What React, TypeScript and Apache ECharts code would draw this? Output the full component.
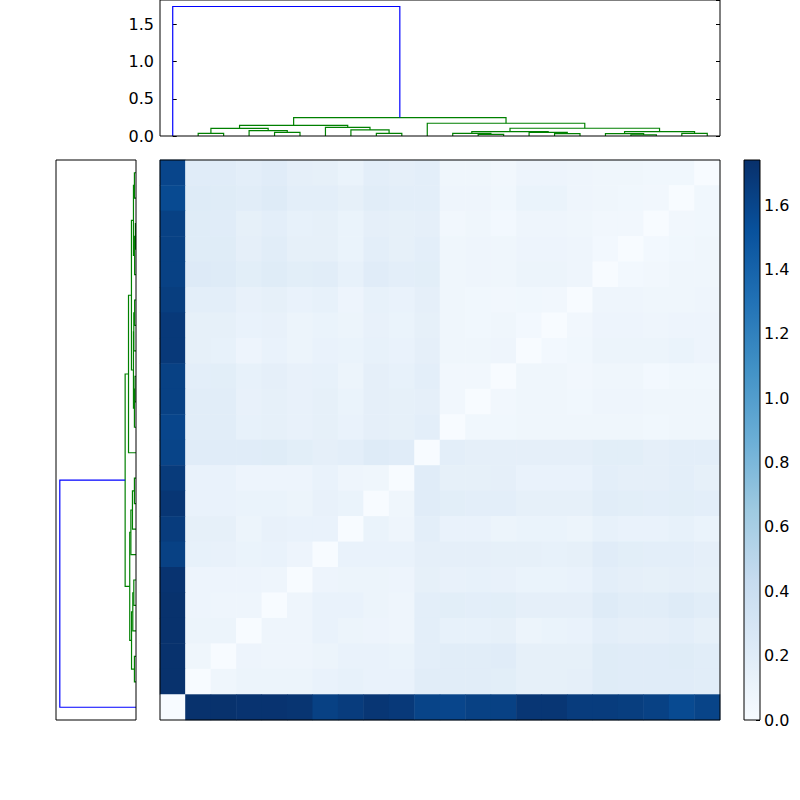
import React, { useEffect, useRef } from "react";
import * as echarts from "echarts";

// ---------- data ----------
const N_LEAVES = 22;
const VMAX = 1.74; // colour scale maximum
const DENDRO_MAX = 1.827; // dendrogram axis limit (1.05 x top merge)

// Matplotlib "Blues" colormap stops
const BLUES = ["#f7fbff", "#deebf7", "#c6dbef", "#9ecae1", "#6baed6", "#4292c6", "#2171b5", "#08519c", "#08306b"];

// Linkage (leaves already in display order): [childA, childB, height]
// ids < 22 are leaves, id 22 + k is merge k
const merges: [number, number, number][] = [
  [1, 2, 0.036],   // 22
  [4, 5, 0.05],    // 23
  [3, 23, 0.073],  // 24
  [22, 24, 0.102], // 25
  [8, 9, 0.036],   // 26
  [7, 26, 0.081],  // 27
  [6, 27, 0.117],  // 28
  [25, 28, 0.143], // 29
  [12, 13, 0.022], // 30
  [11, 30, 0.036], // 31
  [15, 16, 0.031], // 32
  [14, 32, 0.05],  // 33
  [31, 33, 0.058], // 34
  [18, 19, 0.014], // 35
  [17, 35, 0.031], // 36
  [20, 21, 0.036], // 37
  [36, 37, 0.058], // 38
  [34, 38, 0.104], // 39
  [10, 39, 0.171], // 40
  [29, 40, 0.248], // 41
  [0, 41, 1.74],   // 42
];

// Heatmap values, displayed rows top -> bottom, columns left -> right
const heatRows: number[][] = [
  [1.60, 0.20, 0.20, 0.17, 0.20, 0.16, 0.15, 0.11, 0.17, 0.16, 0.17, 0.07, 0.07, 0.05, 0.09, 0.09, 0.08, 0.07, 0.07, 0.06, 0.06, 0.00],
  [1.57, 0.22, 0.21, 0.19, 0.22, 0.17, 0.17, 0.15, 0.19, 0.17, 0.17, 0.08, 0.08, 0.06, 0.11, 0.11, 0.08, 0.07, 0.06, 0.05, 0.00, 0.06],
  [1.63, 0.21, 0.20, 0.15, 0.17, 0.14, 0.15, 0.11, 0.16, 0.15, 0.16, 0.05, 0.07, 0.04, 0.08, 0.08, 0.07, 0.05, 0.05, 0.00, 0.05, 0.06],
  [1.63, 0.21, 0.21, 0.16, 0.19, 0.15, 0.15, 0.11, 0.17, 0.15, 0.17, 0.07, 0.08, 0.07, 0.09, 0.09, 0.08, 0.04, 0.00, 0.04, 0.06, 0.07],
  [1.63, 0.23, 0.22, 0.18, 0.21, 0.18, 0.19, 0.14, 0.20, 0.17, 0.18, 0.07, 0.08, 0.07, 0.10, 0.10, 0.08, 0.00, 0.04, 0.05, 0.07, 0.07],
  [1.65, 0.17, 0.17, 0.13, 0.15, 0.12, 0.14, 0.09, 0.14, 0.12, 0.16, 0.07, 0.06, 0.05, 0.06, 0.05, 0.00, 0.08, 0.08, 0.07, 0.07, 0.08],
  [1.68, 0.15, 0.15, 0.12, 0.13, 0.10, 0.11, 0.10, 0.13, 0.11, 0.15, 0.07, 0.06, 0.07, 0.04, 0.00, 0.05, 0.09, 0.09, 0.08, 0.09, 0.09],
  [1.68, 0.15, 0.14, 0.09, 0.12, 0.10, 0.12, 0.11, 0.14, 0.12, 0.16, 0.07, 0.07, 0.08, 0.00, 0.04, 0.06, 0.10, 0.10, 0.10, 0.11, 0.09],
  [1.63, 0.17, 0.18, 0.14, 0.16, 0.13, 0.14, 0.10, 0.16, 0.14, 0.17, 0.05, 0.05, 0.00, 0.07, 0.07, 0.05, 0.07, 0.07, 0.04, 0.06, 0.06],
  [1.63, 0.19, 0.19, 0.13, 0.15, 0.13, 0.15, 0.11, 0.16, 0.15, 0.16, 0.05, 0.00, 0.05, 0.07, 0.07, 0.06, 0.08, 0.08, 0.07, 0.07, 0.07],
  [1.60, 0.19, 0.19, 0.14, 0.15, 0.13, 0.15, 0.12, 0.16, 0.15, 0.17, 0.00, 0.06, 0.06, 0.07, 0.07, 0.07, 0.07, 0.07, 0.06, 0.07, 0.07],
  [1.61, 0.20, 0.20, 0.20, 0.21, 0.18, 0.16, 0.17, 0.22, 0.20, 0.00, 0.17, 0.16, 0.16, 0.16, 0.16, 0.16, 0.18, 0.18, 0.16, 0.17, 0.17],
  [1.67, 0.12, 0.12, 0.09, 0.09, 0.09, 0.12, 0.08, 0.07, 0.00, 0.20, 0.15, 0.15, 0.16, 0.12, 0.12, 0.12, 0.17, 0.16, 0.16, 0.17, 0.15],
  [1.70, 0.12, 0.12, 0.11, 0.11, 0.10, 0.13, 0.11, 0.00, 0.07, 0.20, 0.18, 0.17, 0.17, 0.15, 0.15, 0.15, 0.19, 0.18, 0.17, 0.18, 0.17],
  [1.66, 0.15, 0.15, 0.10, 0.13, 0.12, 0.12, 0.00, 0.11, 0.08, 0.17, 0.12, 0.12, 0.10, 0.11, 0.11, 0.10, 0.14, 0.12, 0.12, 0.14, 0.11],
  [1.63, 0.14, 0.13, 0.11, 0.12, 0.09, 0.00, 0.12, 0.12, 0.12, 0.16, 0.16, 0.16, 0.15, 0.15, 0.14, 0.15, 0.20, 0.18, 0.17, 0.17, 0.16],
  [1.72, 0.09, 0.09, 0.09, 0.08, 0.00, 0.09, 0.10, 0.10, 0.09, 0.15, 0.13, 0.14, 0.13, 0.11, 0.11, 0.12, 0.17, 0.16, 0.15, 0.16, 0.15],
  [1.73, 0.09, 0.08, 0.08, 0.00, 0.08, 0.12, 0.12, 0.10, 0.08, 0.17, 0.18, 0.17, 0.18, 0.16, 0.16, 0.16, 0.22, 0.19, 0.19, 0.22, 0.19],
  [1.73, 0.10, 0.10, 0.00, 0.08, 0.08, 0.12, 0.10, 0.09, 0.08, 0.17, 0.14, 0.14, 0.15, 0.10, 0.11, 0.12, 0.17, 0.16, 0.16, 0.17, 0.15],
  [1.73, 0.07, 0.00, 0.09, 0.08, 0.08, 0.10, 0.12, 0.12, 0.11, 0.17, 0.19, 0.19, 0.20, 0.15, 0.15, 0.15, 0.21, 0.20, 0.20, 0.21, 0.19],
  [1.73, 0.00, 0.07, 0.10, 0.10, 0.10, 0.12, 0.14, 0.12, 0.12, 0.19, 0.19, 0.19, 0.18, 0.15, 0.15, 0.16, 0.21, 0.20, 0.20, 0.20, 0.19],
  [0.00, 1.73, 1.73, 1.72, 1.72, 1.71, 1.63, 1.66, 1.70, 1.68, 1.61, 1.60, 1.63, 1.63, 1.70, 1.70, 1.66, 1.66, 1.65, 1.63, 1.57, 1.61],
];

const colCategories = heatRows[0].map((_, i) => "c" + i);
const rowCategories = heatRows.map((_, i) => "r" + i);

// ---------- helpers ----------
const GREEN = "#008000";
const BLUE = "#0000ff";

type Seg = { pts: [number, number][]; color: string };

function dendroSegments(): Seg[] {
  const pos: number[] = [];
  const hgt: number[] = [];
  for (let i = 0; i < N_LEAVES; i++) {
    pos[i] = i;
    hgt[i] = 0;
  }
  const maxH = Math.max(...merges.map((m) => m[2]));
  const segs: Seg[] = [];
  merges.forEach(([a, b, h], k) => {
    const id = N_LEAVES + k;
    pos[id] = (pos[a] + pos[b]) / 2;
    hgt[id] = h;
    segs.push({
      pts: [
        [pos[a], hgt[a]],
        [pos[a], h],
        [pos[b], h],
        [pos[b], hgt[b]],
      ],
      color: h > 0.7 * maxH ? BLUE : GREEN,
    });
  });
  return segs;
}

const FONT = "DejaVu Sans";
const LINE_W = 1.2;

export default function App() {
  const ref = useRef<HTMLDivElement>(null);

  useEffect(() => {
    if (!ref.current) return;
    const chart = echarts.init(ref.current, undefined, { renderer: "svg" });
    const segs = dendroSegments();

    const heatData: [number, number, number][] = [];
    heatRows.forEach((row, r) => row.forEach((v, c) => heatData.push([c, r, v])));

    const gridBase = { show: true, borderColor: "#000", borderWidth: 1, backgroundColor: "transparent", z: 5 };
    const tickStyle = { show: true, inside: true, length: 4, lineStyle: { color: "#000", width: 1 } };

    const gradStops = BLUES.map((c, i) => ({ offset: 1 - i / (BLUES.length - 1), color: c })).reverse();

    chart.setOption({
      animation: false,
      textStyle: { fontFamily: FONT, color: "#000" },
      grid: [
        { ...gridBase, left: 160, top: 0, width: 560, height: 136 },
        { ...gridBase, left: 56, top: 160, width: 80, height: 560 },
        { ...gridBase, left: 160, top: 160, width: 560, height: 560 },
        { ...gridBase, left: 744, top: 160, width: 16, height: 560 },
      ],
      xAxis: [
        { type: "value", gridIndex: 0, min: -0.5, max: N_LEAVES - 0.5, show: false },
        { type: "value", gridIndex: 1, min: 0, max: DENDRO_MAX, inverse: true, show: false },
        { type: "category", gridIndex: 2, data: colCategories, show: false },
        { type: "category", gridIndex: 3, data: ["cb"], show: false },
      ],
      yAxis: [
        {
          type: "value",
          gridIndex: 0,
          min: 0,
          max: DENDRO_MAX,
          interval: 0.5,
          position: "left",
          axisLine: { show: false },
          axisTick: tickStyle,
          splitLine: { show: false },
          axisLabel: {
            show: true,
            margin: 6,
            fontSize: 16,
            fontFamily: FONT,
            color: "#000",
            showMaxLabel: false,
            formatter: (v: number) => v.toFixed(1),
          },
        },
        {
          type: "value",
          gridIndex: 0,
          min: 0,
          max: DENDRO_MAX,
          interval: 0.5,
          position: "right",
          axisLine: { show: false },
          axisTick: tickStyle,
          splitLine: { show: false },
          axisLabel: { show: false },
        },
        { type: "value", gridIndex: 1, min: -0.5, max: N_LEAVES - 0.5, show: false },
        { type: "category", gridIndex: 2, data: rowCategories, inverse: true, show: false },
        {
          type: "value",
          gridIndex: 3,
          min: 0,
          max: VMAX,
          interval: 0.2,
          position: "right",
          axisLine: { show: false },
          axisTick: tickStyle,
          splitLine: { show: false },
          axisLabel: {
            show: true,
            margin: 4,
            fontSize: 16,
            fontFamily: FONT,
            color: "#000",
            showMaxLabel: false,
            formatter: (v: number) => v.toFixed(1),
          },
        },
      ],
      visualMap: {
        type: "continuous",
        show: false,
        min: 0,
        max: VMAX,
        seriesIndex: 2,
        inRange: { color: BLUES },
      },
      series: [
        {
          type: "lines",
          coordinateSystem: "cartesian2d",
          xAxisIndex: 0,
          yAxisIndex: 0,
          polyline: true,
          silent: true,
          lineStyle: { width: LINE_W, opacity: 1 },
          data: segs.map((s) => ({ coords: s.pts, lineStyle: { color: s.color, width: LINE_W, opacity: 1 } })),
        },
        {
          type: "lines",
          coordinateSystem: "cartesian2d",
          xAxisIndex: 1,
          yAxisIndex: 2,
          polyline: true,
          silent: true,
          lineStyle: { width: LINE_W, opacity: 1 },
          data: segs.map((s) => ({
            coords: s.pts.map(([p, h]) => [h, p]),
            lineStyle: { color: s.color, width: LINE_W, opacity: 1 },
          })),
        },
        {
          type: "heatmap",
          xAxisIndex: 2,
          yAxisIndex: 3,
          data: heatData,
          silent: true,
        },
        {
          type: "bar",
          xAxisIndex: 3,
          yAxisIndex: 4,
          data: [VMAX],
          barWidth: "100%",
          silent: true,
          itemStyle: {
            color: new echarts.graphic.LinearGradient(0, 0, 0, 1, gradStops),
          },
        },
      ],
    });

    return () => chart.dispose();
  }, []);

  return (
    <div
      ref={ref}
      style={{ position: "absolute", left: 0, top: 0, width: 800, height: 800, background: "#fff" }}
    />
  );
}
